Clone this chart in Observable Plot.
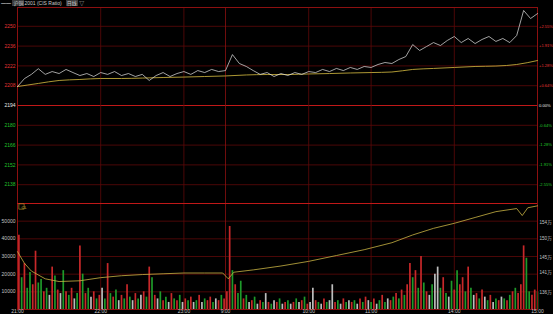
<!DOCTYPE html>
<html><head><meta charset="utf-8">
<script src="https://cdn.jsdelivr.net/npm/d3@7"></script>
<script src="https://cdn.jsdelivr.net/npm/@observablehq/plot@0.6"></script>
<style>
html,body{margin:0;padding:0;background:#000;}
#chart{position:relative;width:553px;height:314px;background:#000;overflow:hidden;font-family:"Liberation Sans","Noto Sans CJK SC",sans-serif;}
#chart svg{position:absolute;left:0;}
#hdr{position:absolute;left:1px;top:0;height:7px;font-size:5px;line-height:7px;color:#c8c8c8;white-space:nowrap;}
#hdr b{font-weight:normal;background:#3a3a3a;padding:0 1px;}
</style></head><body><div id="chart"><div id="hdr">━━ <b>沪铜</b>2001 (CIS Ratio)&nbsp;&nbsp;&nbsp;<b>日线</b> ▽</div></div>
<script>
// ---- data ----
const baseClose = 2194;
const priceTicks = [2138, 2152, 2166, 2180, 2194, 2208, 2222, 2236, 2250];
const timeLabels = ["21:00", "22:00", "23:00", "9:00", "10:00", "11:00", "14:00", "15:00"];
const timeMins   = [0, 60, 120, 150, 210, 255, 315, 375];
const gridMins   = [60, 120, 150, 210, 255, 315];
// price every 5 minutes
const priceVals = [2207.4,2213,2216,2220,2216,2218,2216.6,2219.5,2217.3,2215.2,2216.6,2214.5,2217.3,2216,2218,2215.2,
  2216.6,2214.5,2216,2211.7,2215.2,2217.3,2214.5,2216.6,2218,2216,2218.7,2217.3,2219.5,2218,2218.7,2230,
  2223.7,2221.6,2218.7,2216,2217.3,2214.5,2216.6,2215.2,2217.3,2216,2218,2217.3,2219.5,2218,2220.2,2218.7,
  2220.9,2219.5,2221.6,2220.9,2223,2224.4,2223.7,2226.5,2228.6,2237.1,2232.9,2235.7,2238.5,2236.4,2240,2242.8,
  2238.5,2241.4,2237.8,2240.7,2242.8,2239.3,2241.4,2238.5,2243.5,2261.2,2255.5,2259];
// average price every 15 minutes
const avgVals = [2207.4,2209.6,2211.7,2212.4,2213.1,2213.1,2213.4,2213.8,2214.1,2214.5,2214.9,2215.6,2215.9,
  2215.9,2216.3,2216.6,2217,2217.3,2217.7,2219.5,2220.2,2220.9,2221.6,2221.9,2223,2225.8];
// volume per 2 minutes (thousand lots) and direction
const volK = [42,18,26,12,21,14,33,15,17,10,12,8,24,19,11,9,
  22,10,8,12,6,9,36,20,9,12,7,10,6,8,12,6,
  26,9,7,11,5,8,6,14,7,5,9,6,8,10,7,24,
  18,8,6,10,5,7,4,9,6,5,8,4,6,5,7,4,
  5,8,4,6,5,7,4,6,5,8,6,
  10,47,22,14,9,16,
  6,8,4,5,7,3,5,4,9,4,3,5,4,6,3,4,5,3,4,6,
  4,5,7,3,4,12,5,4,3,6,4,5,14,4,5,3,6,4,5,4,
  5,3,6,4,7,5,4,6,3,5,8,4,6,5,7,9,6,11,8,14,
  26,18,22,12,30,15,10,8,14,20,24,12,18,9,7,16,11,22,14,18,
  10,24,12,8,9,6,11,7,5,8,4,6,5,7,6,
  5,8,10,12,9,14,36,29,10,8,11,10];
const volDir = ("rgrggrrggrgwrgrw" + "grgrwgrgrgwrgrwg" + "rgrgwrgrgwrgwrgr" + "grwgrgwrgrgwrgrw" +
  "grwgrrgwrgr" + "rrgrgg" + "rgwrgwrgwrgwrgwrgwrg" + "wrgrwwrgwrgwwrgwrgwr" +
  "gwrgrwgrwgrgwrgrgrgr" + "rgrgrgrwgwwgrgwgrgrr" + "grgwrgrwgrwgrwg" + "rgrgrrrggrrg").split("");
const volTicks = [10000, 20000, 30000, 40000, 50000];
// open interest (万)
const oiMins = [0,5,10,20,30,45,60,75,90,105,120,135,148,152,156,170,190,210,230,250,270,285,300,315,330,345,360,364,368,375];
const oiVals = [146.5,143.5,141.5,139.5,138.8,139,139.8,140.3,140.6,140.8,141,141,141,139.5,141.2,141.8,142.8,144,
  145.5,147,148.8,150.8,152.5,153.8,155.3,156.8,157.6,155.8,157.8,158.3];
const oiTicks = [136, 141, 145, 150, 154];

// ---- tables ----
const priceData = priceVals.map((p, i) => ({m: i * 5, p}));
const avgData = avgVals.map((p, i) => ({m: i * 15, p}));
const dirColor = {r: "#c8282a", g: "#1e9a2a", w: "#bdbdbd"};
const volData = volK.map((v, i) => ({m: i * 2 + 1, v: v * 1000, c: dirColor[volDir[i]]}));
const oiData = oiMins.map((m, i) => ({m, v: oiVals[i]}));

const W = 553, ML = 17, MR = 16;
const dimRed = "#5e0909", midRed = "#8c1010", brightRed = "#c01818";
const red = "#e03434", green = "#22c02a", white = "#e8e8e8", gray = "#c4c4c4";
const FS = 5;
const font = {background: "transparent", fontFamily: "Liberation Sans, Noto Sans CJK SC, sans-serif", fontSize: FS + "px", overflow: "visible"};
const span = 69.3;
const tickColor = d => d > baseClose ? red : d < baseClose ? green : white;
const pct = d => { const v = (d - baseClose) / baseClose * 100; return (v > 0 ? "+" : v < 0 ? "-" : "") + Math.abs(v).toFixed(2) + "%"; };

const chart = document.getElementById("chart");

const pricePlot = Plot.plot({
  width: W, height: 196, marginLeft: ML, marginRight: MR, marginTop: 0, marginBottom: 0,
  style: font,
  x: {domain: [0, 375], axis: null},
  y: {domain: [baseClose - span, baseClose + span], axis: null},
  color: {type: "identity"},
  marks: [
    Plot.ruleY(priceTicks, {stroke: d => d === baseClose ? brightRed : dimRed, strokeWidth: d => d === baseClose ? 1 : 0.8}),
    Plot.ruleX(gridMins, {stroke: d => d === 150 ? midRed : dimRed, strokeWidth: 0.8}),
    Plot.frame({stroke: midRed, strokeWidth: 1}),
    Plot.line(avgData, {x: "m", y: "p", stroke: "#bfa83a", strokeWidth: 0.9, curve: "monotone-x"}),
    Plot.line(priceData, {x: "m", y: "p", stroke: "#e6e6e6", strokeWidth: 0.7}),
    Plot.text(priceTicks, {y: d => d, frameAnchor: "left", dx: -2, textAnchor: "end", text: d => String(d), fill: tickColor, fontSize: FS}),
    Plot.text(priceTicks, {y: d => d, frameAnchor: "right", dx: 1.5, textAnchor: "start", text: pct, fill: tickColor, fontSize: 4.1})
  ]
});
pricePlot.style.top = "7px";
chart.appendChild(pricePlot);

const volPlot = Plot.plot({
  width: W, height: 111, marginLeft: ML, marginRight: MR, marginTop: 0, marginBottom: 5,
  style: font,
  x: {domain: [0, 375], axis: null},
  y: {domain: [0, 60000], axis: null},
  color: {type: "identity"},
  marks: [
    Plot.ruleY(volTicks, {stroke: dimRed, strokeWidth: 0.8}),
    Plot.ruleX(gridMins, {stroke: d => d === 150 ? midRed : dimRed, strokeWidth: 0.8}),
    Plot.ruleX(volData, {x: "m", y1: 0, y2: "v", stroke: "c", strokeWidth: 1.7}),
    Plot.frame({stroke: midRed, strokeWidth: 1}),
    Plot.ruleY([60000], {stroke: brightRed, strokeWidth: 1}),
    Plot.text(volTicks, {y: d => d, frameAnchor: "left", dx: -2, textAnchor: "end", text: d => String(d), fill: gray, fontSize: FS}),
    Plot.text(timeMins, {x: d => d, frameAnchor: "bottom", dy: 3, text: (d, i) => timeLabels[i], fill: gray, fontSize: FS}),
    Plot.text(["CL"], {frameAnchor: "top-left", dx: 4, dy: 3, text: d => d, fill: "#d8c040", fontSize: 4}),
    Plot.dot(["CL"], {frameAnchor: "top-left", dx: 4, dy: 3, symbol: "square", r: 3, stroke: "#c0a030", strokeWidth: 0.6, fill: "none"})
  ]
});
volPlot.style.top = "203px";
chart.appendChild(volPlot);

const oiPlot = Plot.plot({
  width: W, height: 111, marginLeft: ML, marginRight: MR, marginTop: 0, marginBottom: 5,
  style: font,
  x: {domain: [0, 375], axis: null},
  y: {domain: [131.6, 158.9], axis: null},
  marks: [
    Plot.line(oiData, {x: "m", y: "v", stroke: "#c9b444", strokeWidth: 0.8}),
    Plot.text(oiTicks, {y: d => d, frameAnchor: "right", dx: 2, textAnchor: "start", text: d => d + "万", fill: gray, fontSize: 4.6})
  ]
});
oiPlot.style.top = "203px";
chart.appendChild(oiPlot);
</script></body></html>
